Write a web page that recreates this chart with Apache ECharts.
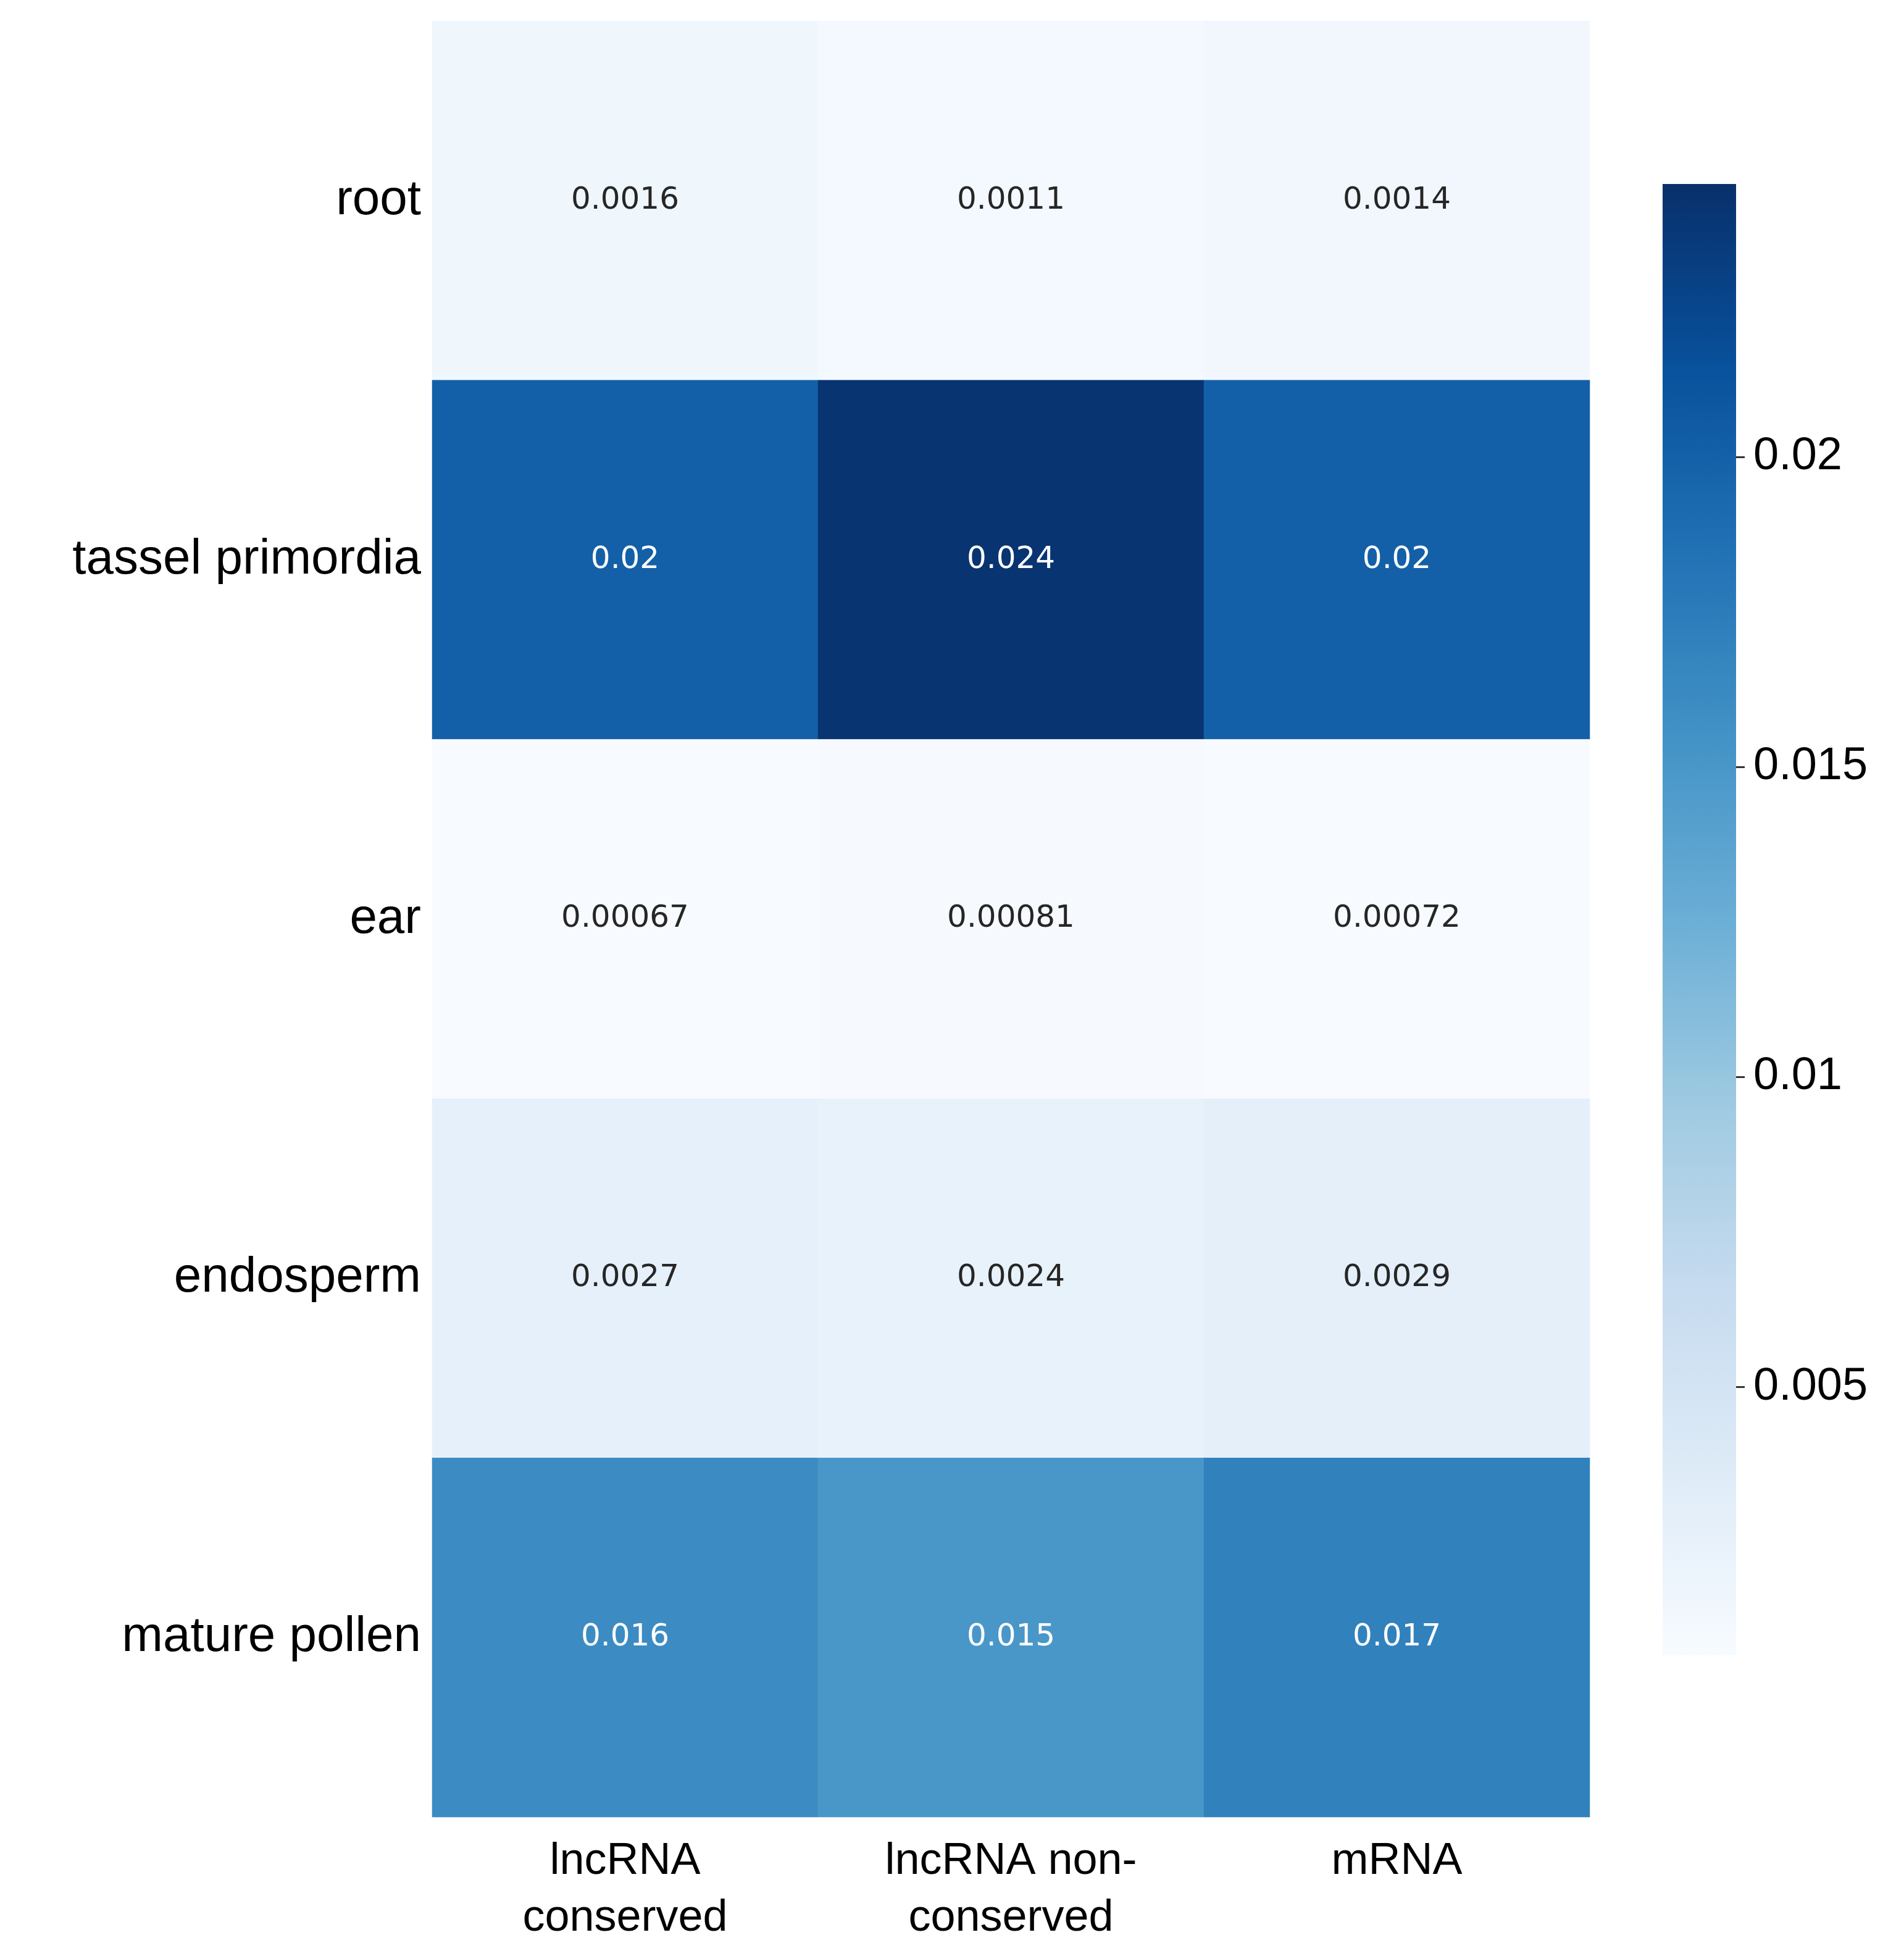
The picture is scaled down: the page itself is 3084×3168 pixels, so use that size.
<!DOCTYPE html>
<html>
<head>
<meta charset="utf-8">
<script src="https://cdn.jsdelivr.net/npm/echarts@6/dist/echarts.min.js"></script>
<style>html,body{margin:0;background:#fff}#chart{width:3084px;height:3168px}</style>
</head>
<body>
<div id="chart"></div>
<script>
const tissues = ["root", "tassel primordia", "ear", "endosperm", "mature pollen"];
const rnaTypes = ["lncRNA\nconserved", "lncRNA non-\nconserved", "mRNA"];
const values = [
  [0.0016, 0.0011, 0.0014],
  [0.02, 0.024, 0.02],
  [0.00067, 0.00081, 0.00072],
  [0.0027, 0.0024, 0.0029],
  [0.016, 0.015, 0.017],
];
const colorTicks = [0.005, 0.01, 0.015, 0.02];
const colorMin = 0.00067;
const colorMax = 0.0244;

const blues = ["#f7fbff", "#deebf7", "#c6dbef", "#9ecae1", "#6baed6", "#4292c6", "#2171b5", "#08519c", "#08306b"];

const cells = [];
values.forEach((row, i) => row.forEach((v, j) => cells.push([j, i, v])));

const chart = echarts.init(document.getElementById("chart"));
chart.setOption({
  animation: false,
  grid: [
    { left: 700, width: 1875, top: 34, height: 2909 },
    { left: 2693, width: 119, top: 298, height: 2383 },
  ],
  xAxis: [
    {
      type: "category", data: rnaTypes, gridIndex: 0,
      axisLine: { show: false },
      axisTick: { alignWithLabel: true, length: 14, lineStyle: { color: "#333", width: 3 } },
      axisLabel: { fontSize: 72, color: "#000", fontFamily: "Liberation Sans", lineHeight: 92, margin: 26 },
    },
    { type: "category", data: [""], gridIndex: 1, show: false },
  ],
  yAxis: [
    {
      type: "category", data: tissues, gridIndex: 0, inverse: true,
      axisLine: { show: false },
      axisTick: { alignWithLabel: true, length: 14, lineStyle: { color: "#333", width: 3 } },
      axisLabel: { fontSize: 80, color: "#000", fontFamily: "Liberation Sans", margin: 18 },
    },
    {
      type: "value", gridIndex: 1, min: colorMin, max: colorMax, position: "right",
      splitLine: { show: false }, axisLine: { show: false },
      axisTick: { show: true, customValues: colorTicks, length: 14, lineStyle: { color: "#333", width: 3 } },
      axisLabel: { customValues: colorTicks, fontSize: 74, color: "#000", fontFamily: "Liberation Sans", margin: 28 },
    },
  ],
  visualMap: {
    show: false, min: colorMin, max: colorMax, seriesIndex: 0, inRange: { color: blues },
  },
  series: [
    {
      type: "heatmap", data: cells, xAxisIndex: 0, yAxisIndex: 0,
      label: {
        show: true, fontSize: 50, fontFamily: "DejaVu Sans",
        formatter: (p) => String(p.value[2]),
        color: "#262626",
      },
      labelLayout: null,
    },
    {
      type: "bar", xAxisIndex: 1, yAxisIndex: 1, barWidth: "100%", silent: true,
      data: [colorMax],
      itemStyle: {
        color: new echarts.graphic.LinearGradient(0, 1, 0, 0,
          blues.map((c, i) => ({ offset: i / (blues.length - 1), color: c }))),
      },
    },
  ],
});
// white labels on dark cells
chart.setOption({
  series: [{
    data: cells.map((c) => ({ value: c, label: { color: c[2] > 0.01 ? "#fff" : "#262626" } })),
  }],
});
</script>
</body>
</html>
